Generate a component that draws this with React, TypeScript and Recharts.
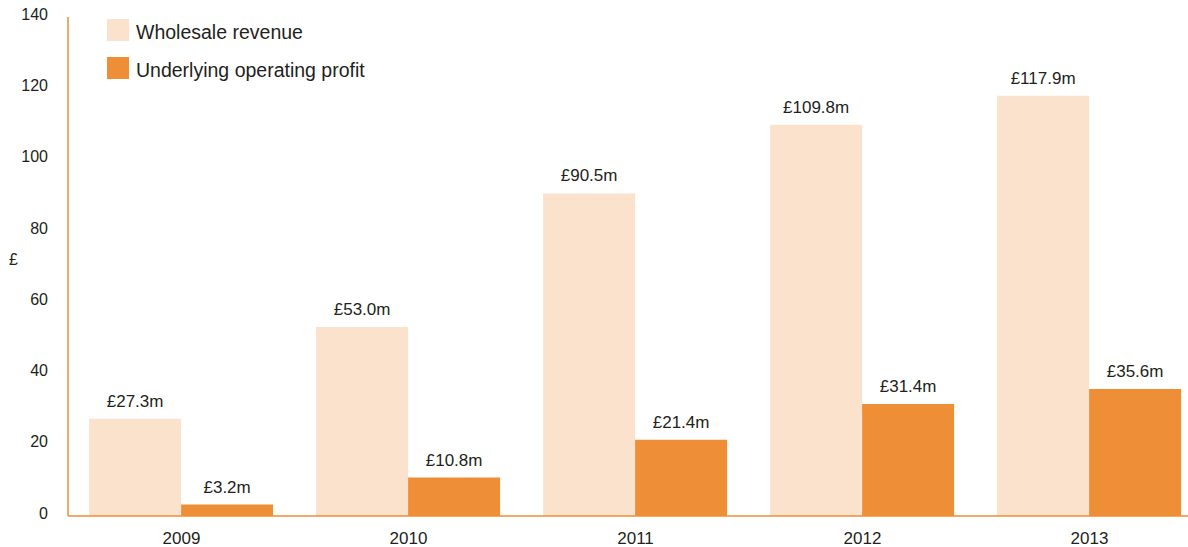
import React from 'react';
import { BarChart, Bar, XAxis, YAxis, Legend, LabelList } from 'recharts';

const years = ['2009', '2010', '2011', '2012', '2013'];
const wholesaleRevenue = [27.3, 53.0, 90.5, 109.8, 117.9];
const operatingProfit = [3.2, 10.8, 21.4, 31.4, 35.6];
const yTicks = [0, 20, 40, 60, 80, 100, 120, 140];
const seriesOrder = ['revenue', 'profit'];

const data = years.map((y, i) => ({
  year: y,
  revenue: wholesaleRevenue[i],
  profit: operatingProfit[i],
}));

const FONT = '"Liberation Sans", Arial, Helvetica, sans-serif';
const LIGHT = '#FAE2CD';
const ORANGE = '#EE8E37';
const TEXT = '#231F20';

const fmt = (v: any) => `£${Number(v).toFixed(1)}m`;

const LegendContent = (props: any) => {
  const payload = [...(props.payload || [])].sort(
    (a: any, b: any) => seriesOrder.indexOf(a.dataKey) - seriesOrder.indexOf(b.dataKey)
  );
  return (
    <div style={{ fontFamily: FONT }}>
      {payload.map((p: any, i: number) => (
        <div key={i} style={{ display: 'flex', alignItems: 'center', height: 22, marginBottom: 16 }}>
          <div style={{ width: 22, height: 22, background: p.color, marginRight: 7, flexShrink: 0 }} />
          <span style={{ fontSize: 19.5, color: TEXT, whiteSpace: 'nowrap', position: 'relative', top: 2 }}>{p.value}</span>
        </div>
      ))}
    </div>
  );
};

const PoundLabel = (props: any) => {
  const { viewBox } = props;
  const cy = viewBox ? viewBox.y + viewBox.height / 2 : 266;
  return (
    <text x={9} y={cy - 6} fontSize={16} fontFamily={FONT} fill={TEXT} textAnchor="start" dominantBaseline="middle">
      £
    </text>
  );
};

export default function App() {
  return (
    <div style={{ position: 'fixed', left: 0, top: 0, width: 1188, height: 547, overflow: 'hidden', background: '#fff' }}>
      <BarChart
        width={1203}
        height={547}
        data={data}
        margin={{ top: 17, right: 0, bottom: 0, left: 0 }}
        barCategoryGap="9.3%"
        barGap={0}
      >
        <XAxis
          dataKey="year"
          axisLine={{ stroke: ORANGE, strokeWidth: 1.5 }}
          tickLine={false}
          tickSize={0}
          tickMargin={16}
          height={31}
          tick={{ fontSize: 17, fill: TEXT, fontFamily: FONT }}
        />
        <YAxis
          domain={[0, 140]}
          ticks={yTicks}
          interval={0}
          width={68}
          axisLine={{ stroke: ORANGE, strokeWidth: 1.5 }}
          tickLine={false}
          tickSize={0}
          tickMargin={20}
          tick={{ fontSize: 16, fill: TEXT, fontFamily: FONT, dy: -3 }}
          label={<PoundLabel />}
        />
        <Legend
          layout="vertical"
          verticalAlign="middle"
          align="center"
          content={<LegendContent />}
          wrapperStyle={{ position: 'absolute', left: 107, top: 19, width: 400 }}
        />
        <Bar dataKey="revenue" name="Wholesale revenue" fill={LIGHT} isAnimationActive={false}>
          <LabelList dataKey="revenue" position="top" offset={12} formatter={fmt} style={{ fontSize: 17, fill: TEXT, fontFamily: FONT }} />
        </Bar>
        <Bar dataKey="profit" name="Underlying operating profit" fill={ORANGE} isAnimationActive={false}>
          <LabelList dataKey="profit" position="top" offset={12} formatter={fmt} style={{ fontSize: 17, fill: TEXT, fontFamily: FONT }} />
        </Bar>
      </BarChart>
    </div>
  );
}
